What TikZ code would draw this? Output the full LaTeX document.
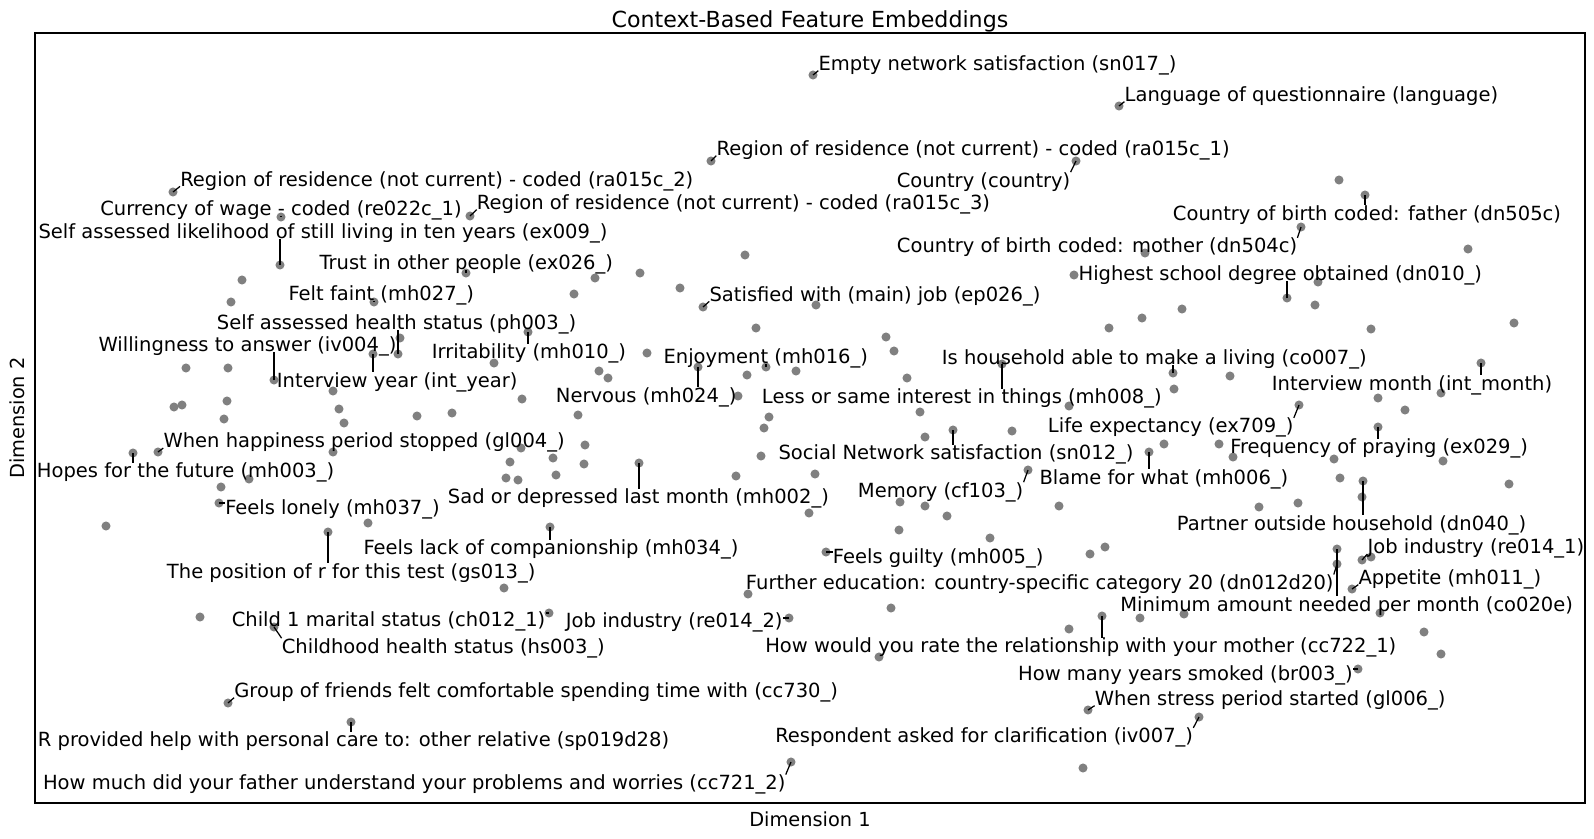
\documentclass[tikz,border=0pt]{standalone}
\usepackage{fontspec}
\setmainfont{DejaVu Sans}
\usepackage{tikz}
\definecolor{ptgray}{RGB}{128,128,128}
\tikzset{
  pt/.style={circle,fill=ptgray,inner sep=0pt,minimum size=2.3mm},
  lbl/.style={anchor=base west,inner sep=0pt,text height=1.06em,text depth=0pt,font=\fontsize{14.1}{16}\selectfont},
  lead/.style={black,line width=0.9pt}
}

\begin{document}
\begin{tikzpicture}[x=0.254mm,y=-0.254mm]
\useasboundingbox (0,0) rectangle (1594,838);
\draw[line width=0.9pt] (35,33) rectangle (1585,803);
\node (title) at (810,27) [anchor=base,font=\fontsize{16}{19}\selectfont] {Context-Based Feature Embeddings};
\node (xlab) at (810,826) [anchor=base,font=\fontsize{14}{16}\selectfont] {Dimension 1};
\node (ylab) at (24.4,418) [anchor=base,rotate=90,font=\fontsize{14}{16}\selectfont] {Dimension 2};
% points without a label
\node (p1) at (1339,180) [pt] {};
\node (p2) at (1145,253) [pt] {};
\node (p3) at (1468,249) [pt] {};
\node (p4) at (745,255) [pt] {};
\node (p5) at (595,278) [pt] {};
\node (p6) at (640,273) [pt] {};
\node (p7) at (242,280) [pt] {};
\node (p8) at (1074,275) [pt] {};
\node (p9) at (1318,282) [pt] {};
\node (p10) at (680,288) [pt] {};
\node (p11) at (574,294) [pt] {};
\node (p12) at (231,302) [pt] {};
\node (p13) at (816,305) [pt] {};
\node (p14) at (1315,305) [pt] {};
\node (p15) at (1182,309) [pt] {};
\node (p16) at (1142,318) [pt] {};
\node (p17) at (1514,323) [pt] {};
\node (p18) at (1109,328) [pt] {};
\node (p19) at (1371,329) [pt] {};
\node (p20) at (756,328) [pt] {};
\node (p21) at (400,338) [pt] {};
\node (p22) at (886,337) [pt] {};
\node (p23) at (894,351) [pt] {};
\node (p24) at (647,353) [pt] {};
\node (p25) at (186,368) [pt] {};
\node (p26) at (228,368) [pt] {};
\node (p27) at (494,363) [pt] {};
\node (p28) at (599,371) [pt] {};
\node (p29) at (608,378) [pt] {};
\node (p30) at (747,375) [pt] {};
\node (p31) at (796,371) [pt] {};
\node (p32) at (907,378) [pt] {};
\node (p33) at (1230,376) [pt] {};
\node (p34) at (333,391) [pt] {};
\node (p35) at (1174,389) [pt] {};
\node (p36) at (1441,393) [pt] {};
\node (p37) at (738,396) [pt] {};
\node (p38) at (1378,398) [pt] {};
\node (p39) at (522,399) [pt] {};
\node (p40) at (227,401) [pt] {};
\node (p41) at (1069,406) [pt] {};
\node (p42) at (174,407) [pt] {};
\node (p43) at (182,405) [pt] {};
\node (p44) at (339,409) [pt] {};
\node (p45) at (1405,410) [pt] {};
\node (p46) at (920,412) [pt] {};
\node (p47) at (417,416) [pt] {};
\node (p48) at (452,413) [pt] {};
\node (p49) at (578,415) [pt] {};
\node (p50) at (769,417) [pt] {};
\node (p51) at (224,419) [pt] {};
\node (p52) at (344,423) [pt] {};
\node (p53) at (764,428) [pt] {};
\node (p54) at (1012,431) [pt] {};
\node (p55) at (925,437) [pt] {};
\node (p56) at (1164,444) [pt] {};
\node (p57) at (1219,444) [pt] {};
\node (p58) at (585,445) [pt] {};
\node (p59) at (521,448) [pt] {};
\node (p60) at (333,452) [pt] {};
\node (p61) at (761,456) [pt] {};
\node (p62) at (1233,457) [pt] {};
\node (p63) at (553,458) [pt] {};
\node (p64) at (1334,459) [pt] {};
\node (p65) at (1443,461) [pt] {};
\node (p66) at (510,462) [pt] {};
\node (p67) at (584,464) [pt] {};
\node (p68) at (815,474) [pt] {};
\node (p69) at (556,475) [pt] {};
\node (p70) at (736,476) [pt] {};
\node (p71) at (1340,478) [pt] {};
\node (p72) at (506,478) [pt] {};
\node (p73) at (518,480) [pt] {};
\node (p74) at (249,479) [pt] {};
\node (p75) at (1362,497) [pt] {};
\node (p76) at (1509,484) [pt] {};
\node (p77) at (221,487) [pt] {};
\node (p78) at (900,502) [pt] {};
\node (p79) at (1298,503) [pt] {};
\node (p80) at (925,506) [pt] {};
\node (p81) at (1059,506) [pt] {};
\node (p82) at (1259,507) [pt] {};
\node (p83) at (809,513) [pt] {};
\node (p84) at (947,516) [pt] {};
\node (p85) at (368,523) [pt] {};
\node (p86) at (106,526) [pt] {};
\node (p87) at (899,530) [pt] {};
\node (p88) at (990,538) [pt] {};
\node (p89) at (1105,547) [pt] {};
\node (p90) at (1090,554) [pt] {};
\node (p91) at (1371,557) [pt] {};
\node (p92) at (504,588) [pt] {};
\node (p93) at (748,594) [pt] {};
\node (p94) at (891,608) [pt] {};
\node (p95) at (1380,613) [pt] {};
\node (p96) at (1184,614) [pt] {};
\node (p97) at (200,617) [pt] {};
\node (p98) at (1140,618) [pt] {};
\node (p99) at (1069,629) [pt] {};
\node (p100) at (1424,632) [pt] {};
\node (p101) at (1441,654) [pt] {};
\node (p102) at (879,657) [pt] {};
\node (p103) at (1083,768) [pt] {};
% labelled points
\node (sn017) at (813,75) [pt] {};
\node (language) at (1119,106) [pt] {};
\node (ra015a) at (711,161) [pt] {};
\node (country) at (1076,161) [pt] {};
\node (ra015b) at (173,192) [pt] {};
\node (dn505c) at (1365,195) [pt] {};
\node (re022) at (281,217) [pt] {};
\node (ra015c) at (470,216) [pt] {};
\node (dn504c) at (1301,227) [pt] {};
\node (ex009) at (280,265) [pt] {};
\node (ex026) at (466,273) [pt] {};
\node (dn010) at (1287,298) [pt] {};
\node (mh027) at (374,302) [pt] {};
\node (ep026) at (703,307) [pt] {};
\node (mh010) at (528,332) [pt] {};
\node (ph003) at (398,354) [pt] {};
\node (intyear) at (373,354) [pt] {};
\node (mh008) at (1002,364) [pt] {};
\node (intmonth) at (1481,363) [pt] {};
\node (mh024) at (698,367) [pt] {};
\node (mh016) at (766,367) [pt] {};
\node (co007) at (1173,373) [pt] {};
\node (iv004) at (274,380) [pt] {};
\node (ex709) at (1299,405) [pt] {};
\node (ex029) at (1378,427) [pt] {};
\node (sn012) at (953,430) [pt] {};
\node (mh006) at (1149,452) [pt] {};
\node (gl004) at (158,452) [pt] {};
\node (mh003) at (133,453) [pt] {};
\node (mh002) at (639,463) [pt] {};
\node (cf103) at (1028,470) [pt] {};
\node (dn040) at (1363,481) [pt] {};
\node (mh037) at (219,503) [pt] {};
\node (mh034) at (550,527) [pt] {};
\node (gs013) at (328,532) [pt] {};
\node (co020e) at (1337,549) [pt] {};
\node (mh005) at (826,552) [pt] {};
\node (re014a) at (1362,560) [pt] {};
\node (dn012d20) at (1337,564) [pt] {};
\node (mh011) at (1352,589) [pt] {};
\node (ch012a) at (549,613) [pt] {};
\node (cc722) at (1102,616) [pt] {};
\node (re014b) at (789,618) [pt] {};
\node (hs003) at (274,627) [pt] {};
\node (br003) at (1358,669) [pt] {};
\node (cc730) at (228,703) [pt] {};
\node (gl006) at (1088,710) [pt] {};
\node (iv007) at (1199,717) [pt] {};
\node (sp019d28) at (351,722) [pt] {};
\node (cc721) at (791,762) [pt] {};
% labels
\node (sn017t) at (818.3,70.4) [lbl] {Empty network satisfaction (sn017\_)};
\node (languaget) at (1124.4,101.4) [lbl] {Language of questionnaire (language)};
\node (ra015at) at (716.3,155.4) [lbl] {Region of residence (not current) - coded (ra015c\_1)};
\node (countryt) at (896.5,187.1) [lbl] {Country (country)};
\node (ra015bt) at (180,186.1) [lbl] {Region of residence (not current) - coded (ra015c\_2)};
\node (dn505ct) at (1172.7,220.4) [lbl] {Country of birth coded: father (dn505c)};
\node (re022t) at (100,215.4) [lbl] {Currency of wage - coded (re022c\_1)};
\node (ra015ct) at (476.7,209.4) [lbl] {Region of residence (not current) - coded (ra015c\_3)};
\node (ex009t) at (38.3,238.8) [lbl] {Self assessed likelihood of still living in ten years (ex009\_)};
\node (dn504ct) at (896.7,252.8) [lbl] {Country of birth coded: mother (dn504c)};
\node (ex026t) at (319.3,269.8) [lbl] {Trust in other people (ex026\_)};
\node (dn010t) at (1078.3,280.4) [lbl] {Highest school degree obtained (dn010\_)};
\node (mh027t) at (288.3,300.4) [lbl] {Felt faint (mh027\_)};
\node (ep026t) at (709.3,301.1) [lbl] {Satisfied with (main) job (ep026\_)};
\node (ph003t) at (216.7,329.4) [lbl] {Self assessed health status (ph003\_)};
\node (iv004t) at (98.3,351.4) [lbl] {Willingness to answer (iv004\_)};
\node (mh010t) at (431.7,358.8) [lbl] {Irritability (mh010\_)};
\node (mh016t) at (663.3,363.8) [lbl] {Enjoyment (mh016\_)};
\node (co007t) at (941.7,364.4) [lbl] {Is household able to make a living (co007\_)};
\node (intyeart) at (276.7,387.1) [lbl] {Interview year (int\_year)};
\node (intmontht) at (1271.7,390.4) [lbl] {Interview month (int\_month)};
\node (mh024t) at (555.7,402.1) [lbl] {Nervous (mh024\_)};
\node (mh008t) at (761.7,403.8) [lbl] {Less or same interest in things (mh008\_)};
\node (ex709t) at (1047.7,432.8) [lbl] {Life expectancy (ex709\_)};
\node (gl004t) at (163.3,447.8) [lbl] {When happiness period stopped (gl004\_)};
\node (ex029t) at (1230,453.8) [lbl] {Frequency of praying (ex029\_)};
\node (sn012t) at (778.3,459.8) [lbl] {Social Network satisfaction (sn012\_)};
\node (mh003t) at (36.7,477.8) [lbl] {Hopes for the future (mh003\_)};
\node (mh006t) at (1039.3,484.4) [lbl] {Blame for what (mh006\_)};
\node (cf103t) at (857.7,497.1) [lbl] {Memory (cf103\_)};
\node (mh002t) at (447.7,503.8) [lbl] {Sad or depressed last month (mh002\_)};
\node (mh037t) at (225,514.4) [lbl] {Feels lonely (mh037\_)};
\node (dn040t) at (1176.7,530.4) [lbl] {Partner outside household (dn040\_)};
\node (mh034t) at (363.3,554.5) [lbl] {Feels lack of companionship (mh034\_)};
\node (re014at) at (1367.3,553.8) [lbl] {Job industry (re014\_1)};
\node (mh005t) at (832.7,563.8) [lbl] {Feels guilty (mh005\_)};
\node (gs013t) at (166.7,578.1) [lbl] {The position of r for this test (gs013\_)};
\node (mh011t) at (1358.3,584.4) [lbl] {Appetite (mh011\_)};
\node (dn012d20t) at (745.7,589.4) [lbl] {Further education: country-specific category 20 (dn012d20)};
\node (co020et) at (1120,611.1) [lbl] {Minimum amount needed per month (co020e)};
\node (ch012at) at (231.5,626.1) [lbl] {Child 1 marital status (ch012\_1)};
\node (re014bt) at (565.7,627.1) [lbl] {Job industry (re014\_2)};
\node (cc722t) at (765,652.8) [lbl] {How would you rate the relationship with your mother (cc722\_1)};
\node (hs003t) at (281.6,653.1) [lbl] {Childhood health status (hs003\_)};
\node (br003t) at (1017.9,680.1) [lbl] {How many years smoked (br003\_)};
\node (cc730t) at (234.1,697.4) [lbl] {Group of friends felt comfortable spending time with (cc730\_)};
\node (gl006t) at (1094.6,705.4) [lbl] {When stress period started (gl006\_)};
\node (iv007t) at (775,742.8) [lbl] {Respondent asked for clarification (iv007\_)};
\node (sp019d28t) at (37.7,746.5) [lbl] {R provided help with personal care to: other relative (sp019d28)};
\node (cc721t) at (42.8,789.5) [lbl] {How much did your father understand your problems and worries (cc721\_2)};
% leader lines
\draw[lead] (sn017.center) -- (sn017t.south west);
\draw[lead] (language.center) -- (languaget.south west);
\draw[lead] (ra015a.center) -- (ra015at.south west);
\draw[lead] (ra015b.center) -- (ra015bt.south west);
\draw[lead] (ra015c.center) -- (ra015ct.south west);
\draw[lead] (ep026.center) -- (ep026t.south west);
\draw[lead] (gl004.center) -- (gl004t.south west);
\draw[lead] (re014a.center) -- (re014at.south west);
\draw[lead] (mh011.center) -- (mh011t.south west);
\draw[lead] (cc730.center) -- (cc730t.south west);
\draw[lead] (gl006.center) -- (gl006t.south west);
\draw[lead] (country.center) -- (countryt.north east);
\draw[lead] (dn504c.center) -- (dn504ct.north east);
\draw[lead] (ex709.center) -- (ex709t.north east);
\draw[lead] (cf103.center) -- (cf103t.north east);
\draw[lead] (dn012d20.center) -- (dn012d20t.north east);
\draw[lead] (iv007.center) -- (iv007t.north east);
\draw[lead] (cc721.center) -- (cc721t.north east);
\draw[lead] (hs003.center) -- (hs003t.north west);
\draw[lead] (dn505c.center) -- (dn505c.center |- dn505ct.north);
\draw[lead] (mh010.center) -- (mh010.center |- mh010t.north);
\draw[lead] (intyear.center) -- (intyear.center |- intyeart.north);
\draw[lead] (mh008.center) -- (mh008.center |- mh008t.north);
\draw[lead] (intmonth.center) -- (intmonth.center |- intmontht.north);
\draw[lead] (mh024.center) -- (mh024.center |- mh024t.north);
\draw[lead] (ex029.center) -- (ex029.center |- ex029t.north);
\draw[lead] (sn012.center) -- (sn012.center |- sn012t.north);
\draw[lead] (mh006.center) -- (mh006.center |- mh006t.north);
\draw[lead] (mh003.center) -- (mh003.center |- mh003t.north);
\draw[lead] (mh002.center) -- (mh002.center |- mh002t.north);
\draw[lead] (dn040.center) -- (dn040.center |- dn040t.north);
\draw[lead] (mh034.center) -- (mh034.center |- mh034t.north);
\draw[lead] (gs013.center) -- (gs013.center |- gs013t.north);
\draw[lead] (co020e.center) -- (co020e.center |- co020et.north);
\draw[lead] (cc722.center) -- (cc722.center |- cc722t.north);
\draw[lead] (sp019d28.center) -- (sp019d28.center |- sp019d28t.north);
\draw[lead] (re022.center) -- (re022.center |- re022t.south);
\draw[lead] (ex009.center) -- (ex009.center |- ex009t.south);
\draw[lead] (ex026.center) -- (ex026.center |- ex026t.south);
\draw[lead] (dn010.center) -- (dn010.center |- dn010t.south);
\draw[lead] (mh027.center) -- (mh027.center |- mh027t.south);
\draw[lead] (ph003.center) -- (ph003.center |- ph003t.south);
\draw[lead] (mh016.center) -- (mh016.center |- mh016t.south);
\draw[lead] (co007.center) -- (co007.center |- co007t.south);
\draw[lead] (iv004.center) -- (iv004.center |- iv004t.south);
\draw[lead] (mh037.center) -- (mh037.center -| mh037t.west);
\draw[lead] (mh005.center) -- (mh005.center -| mh005t.west);
\draw[lead] (ch012a.center) -- (ch012a.center -| ch012at.east);
\draw[lead] (re014b.center) -- (re014b.center -| re014bt.east);
\draw[lead] (br003.center) -- (br003.center -| br003t.east);
\end{tikzpicture}
\end{document}
